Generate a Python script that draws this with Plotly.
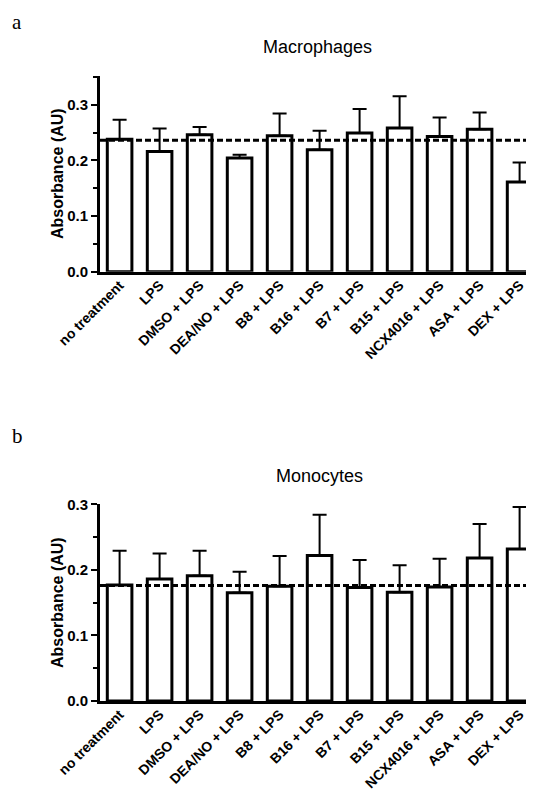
import plotly.graph_objects as go

categories = ["no treatment", "LPS", "DMSO + LPS", "DEA/NO + LPS", "B8 + LPS",
              "B16 + LPS", "B7 + LPS", "B15 + LPS", "NCX4016 + LPS", "ASA + LPS", "DEX + LPS"]

macro_mean = [0.238, 0.216, 0.246, 0.204, 0.244, 0.219, 0.249, 0.258, 0.243, 0.256, 0.161]
macro_sem = [0.035, 0.041, 0.014, 0.006, 0.040, 0.034, 0.043, 0.057, 0.034, 0.030, 0.035]
macro_ref = 0.236

mono_mean = [0.177, 0.186, 0.191, 0.165, 0.175, 0.222, 0.173, 0.166, 0.174, 0.218, 0.232]
mono_sem = [0.052, 0.039, 0.038, 0.032, 0.046, 0.062, 0.042, 0.041, 0.043, 0.052, 0.064]
mono_ref = 0.176

macro_ticks = [0.0, 0.1, 0.2, 0.3]
mono_ticks = [0.0, 0.1, 0.2, 0.3]

# page body has an 8px margin: figure is drawn from (8, 8)
OFF = 8
W, H = 534 - OFF, 792 - OFF
SANS = "Liberation Sans, Arial, sans-serif"
SERIF = "Liberation Serif, Times New Roman, serif"

fig = go.Figure()

def add_panel(means, sems, xa, ya):
    fig.add_trace(go.Bar(
        x=categories, y=means, xaxis=xa, yaxis=ya,
        width=0.615,
        marker=dict(color="white", line=dict(color="black", width=3)),
        error_y=dict(type="data", symmetric=False, array=sems,
                     arrayminus=[0] * len(sems), color="black",
                     thickness=2, width=7),
        showlegend=False,
    ))

add_panel(macro_mean, macro_sem, "x", "y")
add_panel(mono_mean, mono_sem, "x2", "y2")

def px_x(px):
    return (px - OFF) / W

def px_y(px):
    return 1 - (px - OFF) / H

xtickfont = dict(family=SANS, size=14, color="black")
ytickfont = dict(family=SANS, size=15, color="black")
xcommon = dict(
    range=[-0.49, 10.36], showline=True, linewidth=3, linecolor="black",
    ticks="", tickangle=-45, tickfont=xtickfont, showgrid=False, zeroline=False,
    tickvals=categories, ticktext=["<b>%s</b>" % c for c in categories],
    ticklabelstandoff=-3, automargin=False, fixedrange=True,
)

def ycommon(vals):
    return dict(
        showline=True, linewidth=3, linecolor="black", ticks="outside",
        ticklen=6, tickwidth=2, tickcolor="black",
        tickvals=vals, ticktext=["<b>%.1f</b>" % v for v in vals],
        tickfont=ytickfont, showgrid=False, zeroline=False, automargin=False,
        minor=dict(dtick=0.05, ticks="outside", ticklen=4, tickwidth=2, tickcolor="black"),
        title=dict(text="<b>Absorbance (AU)</b>",
                   font=dict(family=SANS, size=16, color="black"),
                   standoff=0),
    )

fig.update_layout(
    width=W, height=H,
    margin=dict(l=0, r=0, t=0, b=0, autoexpand=False),
    paper_bgcolor="white", plot_bgcolor="white",
    xaxis=dict(domain=[px_x(100), 1], anchor="y", **xcommon),
    yaxis=dict(domain=[px_y(271.7), px_y(75.7)], range=[0, 0.352], anchor="x", **ycommon(macro_ticks)),
    xaxis2=dict(domain=[px_x(100), 1], anchor="y2", **xcommon),
    yaxis2=dict(domain=[px_y(701), px_y(504.3)], range=[0, 0.3], anchor="x2", **ycommon(mono_ticks)),
    shapes=[
        dict(type="line", xref="x domain", yref="y", x0=0, x1=1, y0=macro_ref, y1=macro_ref,
             line=dict(color="black", width=3, dash="6px,3px")),
        dict(type="line", xref="x2 domain", yref="y2", x0=0, x1=1, y0=mono_ref, y1=mono_ref,
             line=dict(color="black", width=3, dash="6px,3px")),
    ],
    annotations=[
        dict(text="Macrophages", xref="paper", yref="paper", x=px_x(317), y=px_y(47),
             showarrow=False, xanchor="center", yanchor="middle",
             font=dict(family=SANS, size=18, color="black")),
        dict(text="Monocytes", xref="paper", yref="paper", x=px_x(319), y=px_y(476),
             showarrow=False, xanchor="center", yanchor="middle",
             font=dict(family=SANS, size=18, color="black")),
        dict(text="a", xref="paper", yref="paper", x=px_x(17), y=1,
             showarrow=False, xanchor="center", yanchor="top",
             font=dict(family=SERIF, size=21, color="black")),
        dict(text="b", xref="paper", yref="paper", x=px_x(17), y=px_y(436),
             showarrow=False, xanchor="center", yanchor="middle",
             font=dict(family=SERIF, size=21, color="black")),
    ],
)

fig.write_html("out.html")
